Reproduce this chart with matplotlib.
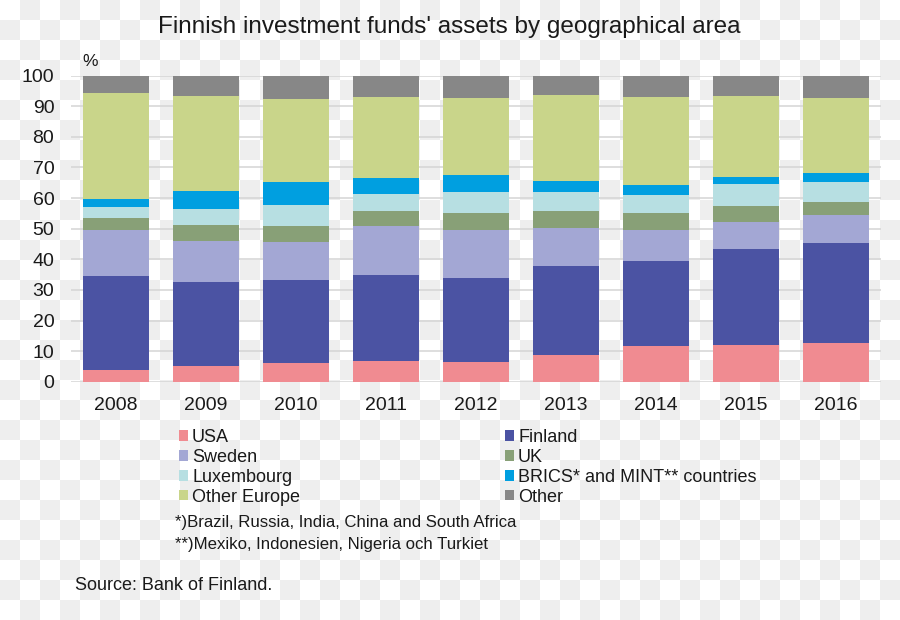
import numpy as np
import matplotlib
matplotlib.use("Agg")
import matplotlib.pyplot as plt
from matplotlib.patches import Patch

plt.rcParams['font.family'] = ['Liberation Sans', 'DejaVu Sans']

years = ['2008', '2009', '2010', '2011', '2012', '2013', '2014', '2015', '2016']
usa        = [3.8, 5.2, 6.2, 6.7, 6.4, 8.6, 11.7, 12.0, 12.6]
finland    = [30.7, 27.4, 27.0, 28.2, 27.6, 29.2, 27.7, 31.3, 32.6]
sweden     = [15.1, 13.4, 12.5, 16.0, 15.6, 12.4, 10.2, 9.0, 9.3]
uk         = [4.0, 5.1, 5.3, 5.0, 5.6, 5.5, 5.4, 5.1, 4.3]
luxembourg = [3.6, 5.2, 6.6, 5.5, 6.9, 6.2, 5.9, 7.1, 6.6]
brics_mint = [2.6, 6.1, 7.7, 5.3, 5.5, 3.8, 3.3, 2.4, 2.7]
other_eur  = [34.6, 31.1, 27.0, 26.3, 25.1, 28.0, 28.7, 26.4, 24.6]
other      = [5.6, 6.5, 7.7, 7.0, 7.3, 6.3, 7.1, 6.7, 7.3]

series = [
    ('USA', usa, '#f08b91'),
    ('Finland', finland, '#4b53a3'),
    ('Sweden', sweden, '#a3a7d4'),
    ('UK', uk, '#88a077'),
    ('Luxembourg', luxembourg, '#b7dfe2'),
    ('BRICS* and MINT** countries', brics_mint, '#009fe0'),
    ('Other Europe', other_eur, '#c9d58a'),
    ('Other', other, '#878787'),
]

W, H = 900, 620
fig = plt.figure(figsize=(W / 100, H / 100), dpi=100)

# checkered background
ny, nx = H // 20 + 1, W // 20 + 1
jj, ii = np.mgrid[0:ny, 0:nx]
chk = np.where((ii + jj) % 2 == 1, 0.935, 1.0)
chk = np.kron(chk, np.ones((20, 20)))[:H, :W]
rgb = np.dstack([chk, chk, chk])
fig.figimage(rgb, xo=0, yo=0, origin='upper', zorder=-10)

ax_l, ax_r, ax_t, ax_b = 71, 881, 75.7, 381.7
ax = fig.add_axes([ax_l / W, 1 - ax_b / H, (ax_r - ax_l) / W, (ax_b - ax_t) / H])
ax.set_facecolor('none')

x = np.arange(len(years))
bottom = np.zeros(len(years))
handles = {}
for name, vals, col in series:
    v = np.array(vals)
    ax.bar(x, v, bottom=bottom, width=0.733, color=col, edgecolor='none', zorder=3)
    bottom += v
    handles[name] = Patch(facecolor=col, edgecolor='none', label=name)

ax.set_xlim(-0.5, len(years) - 0.5)
ax.set_ylim(0, 100)
ax.set_yticks(np.arange(0, 101, 10))
ax.set_xticks(x)
ax.set_xticklabels(years)
ax.tick_params(axis='both', length=0, labelsize=14, colors='#1a1a1a')
ax.tick_params(axis='y', pad=12)
ax.tick_params(axis='x', pad=11)
ax.grid(axis='y', color='#d4d4d4', linewidth=1.1, zorder=0)
for s in ax.spines.values():
    s.set_visible(False)

fig.text(0.5 * (157 + 742) / W, 1 - 27.5 / H,
         "Finnish investment funds' assets by geographical area",
         ha='center', va='center', fontsize=17.5, color='#1a1a1a')
fig.text(82 / W, 1 - 61 / H, '%', ha='left', va='center', fontsize=12.5, color='#1a1a1a')

leg_kw = dict(frameon=False, fontsize=13, handlelength=0.5, handleheight=0.5,
              handletextpad=0.22, labelspacing=0.16, borderpad=0, borderaxespad=0,
              labelcolor='#1a1a1a', loc='upper left')
left_names = ['USA', 'Sweden', 'Luxembourg', 'Other Europe']
right_names = ['Finland', 'UK', 'BRICS* and MINT** countries', 'Other']
leg1 = fig.legend(handles=[handles[n] for n in left_names],
                  bbox_to_anchor=(179 / W, 1 - 429 / H), **leg_kw)
leg2 = fig.legend(handles=[handles[n] for n in right_names],
                  bbox_to_anchor=(505 / W, 1 - 429 / H), **leg_kw)

fig.text(175 / W, 1 - 523 / H, '*)Brazil, Russia, India, China and South Africa',
         ha='left', va='center', fontsize=12.1, color='#1a1a1a')
fig.text(175 / W, 1 - 544 / H, '**)Mexiko, Indonesien, Nigeria och Turkiet',
         ha='left', va='center', fontsize=12.1, color='#1a1a1a')
fig.text(75 / W, 1 - 585 / H, 'Source: Bank of Finland.',
         ha='left', va='center', fontsize=13, color='#1a1a1a')

fig.savefig('out.png', dpi=100)
